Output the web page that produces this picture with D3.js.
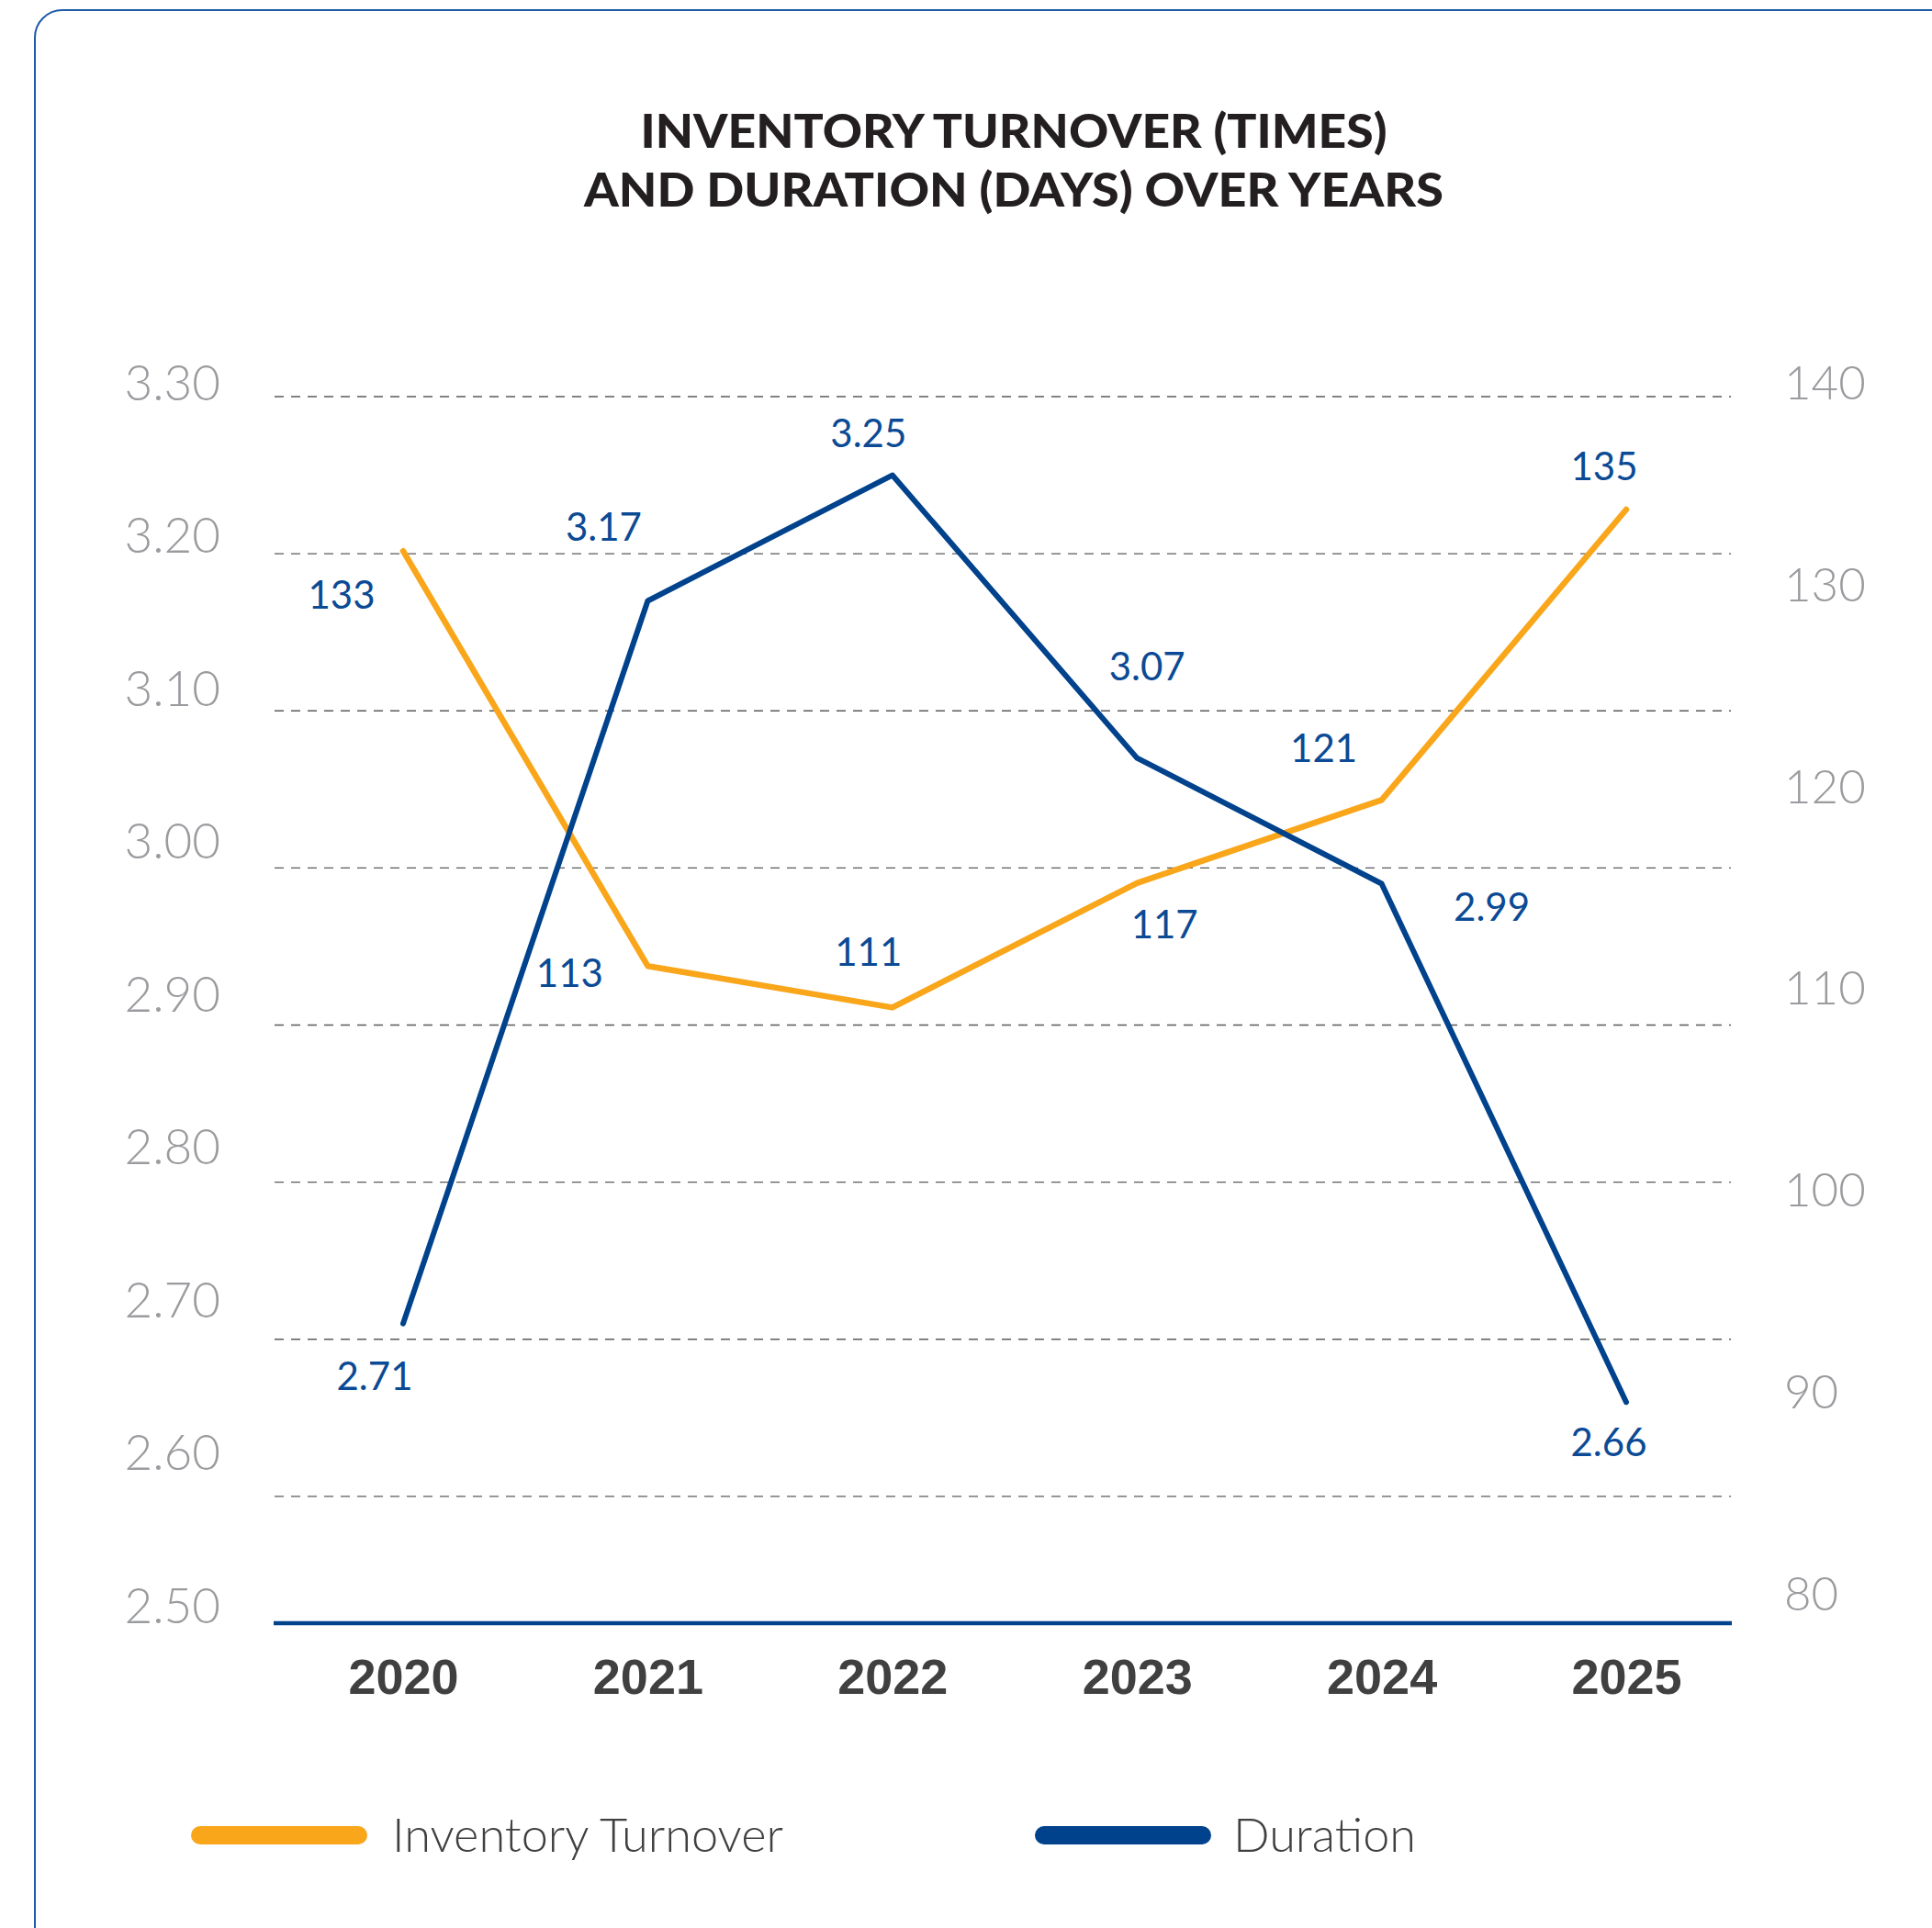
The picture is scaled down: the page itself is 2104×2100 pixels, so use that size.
<!DOCTYPE html>
<html>
<head>
<meta charset="utf-8">
<script src="https://cdn.jsdelivr.net/npm/d3@7"></script>
<style>
html,body{margin:0;padding:0;background:#fff;}
svg{display:block;}
</style>
</head>
<body>
<svg id="chart" width="2104" height="2100"></svg>
<script>
// ---- Data ----
const years = ["2020","2021","2022","2023","2024","2025"];
const turnoverValues = [133, 113, 111, 117, 121, 135];      // orange series (right axis)
const durationValues = [2.71, 3.17, 3.25, 3.07, 2.99, 2.66]; // blue series (left axis)
const leftTicks = [2.5, 2.6, 2.7, 2.8, 2.9, 3.0, 3.1, 3.2, 3.3];
const rightTicks = [80, 90, 100, 110, 120, 130, 140];
const gridTicks = [2.6, 2.7, 2.8, 2.9, 3.0, 3.1, 3.2, 3.3];
const titleLines = ["INVENTORY TURNOVER (TIMES)", "AND DURATION (DAYS) OVER YEARS"];
const seriesNames = ["Inventory Turnover", "Duration"];

// ---- Layout / style ----
const ORANGE = "#F9A61B", BLUE = "#00428C", LABEL_BLUE = "#0B4A94";
const turnoverLabelOffsets = [[-67,47],[-85,7],[-26,-61],[30,44],[-63,-57],[-24,-48]];
const durationLabelOffsets = [[-31,56],[-48,-81],[-26,-47],[11,-101],[120,25],[-19,43]];

const svg = d3.select("#chart");

// frame
svg.append("rect").attr("x",38).attr("y",11).attr("width",2300).attr("height",2300)
  .attr("rx",30).attr("fill","none").attr("stroke","#1F5BA6").attr("stroke-width",2);

// title
svg.append("g").selectAll("text").data(titleLines).join("text")
  .attr("x",1104).attr("y",(d,i)=>141+i*64)
  .attr("text-anchor","middle").attr("dominant-baseline","central")
  .attr("font-family","Lato, 'Open Sans', sans-serif").attr("font-weight",900)
  .attr("font-size",52).attr("fill","#231F20")
  .attr("textLength",(d,i)=>i===0?813:936).attr("lengthAdjust","spacingAndGlyphs")
  .text(d=>d);

// scales
const x = d3.scalePoint().domain(years).range([439, 1771]);
const yLeft = d3.scaleLinear().domain([2.5, 3.3]).range([1801, 432]);
const yRight = d3.scaleLinear().domain([80, 140]).range([1798, 442]);
const leftLabelY = d3.scaleLinear().domain([2.5, 3.3]).range([1748, 416]);
const rightLabelY = d3.scaleLinear().domain([80, 140]).range([1735, 416]);

// gridlines
svg.append("g").selectAll("line").data(gridTicks).join("line")
  .attr("x1",299).attr("x2",1885)
  .attr("y1",d=>yLeft(d)).attr("y2",d=>yLeft(d))
  .attr("stroke","#5a5a5a").attr("stroke-width",1.4).attr("stroke-dasharray","10,8");

// left axis labels
const gl = svg.append("g").attr("transform","translate(240,0)")
  .call(d3.axisLeft(leftLabelY).tickValues(leftTicks).tickFormat(d3.format(".2f")).tickSize(0).tickPadding(0));
gl.select(".domain").remove();
gl.selectAll("text").attr("font-family","Lato, sans-serif").attr("font-weight",300)
  .attr("font-size",53).attr("fill","#9A9B9F").attr("dy","0.36em");

// right axis labels
const gr = svg.append("g").attr("transform","translate(1943,0)")
  .call(d3.axisRight(rightLabelY).tickValues(rightTicks).tickSize(0).tickPadding(0));
gr.select(".domain").remove();
gr.selectAll("text").attr("font-family","Lato, sans-serif").attr("font-weight",300)
  .attr("font-size",51).attr("fill","#9A9B9F").attr("dy","0.36em");

// x axis baseline + labels
svg.append("line").attr("x1",298).attr("x2",1886).attr("y1",1768).attr("y2",1768)
  .attr("stroke",BLUE).attr("stroke-width",4.5);
const gx = svg.append("g").attr("transform","translate(0,1768)")
  .call(d3.axisBottom(x).tickSize(0).tickPadding(39));
gx.select(".domain").remove();
gx.selectAll("text").attr("font-family","'Liberation Sans', Arial, sans-serif").attr("font-weight",700)
  .attr("font-size",54).attr("fill","#404040");

// lines
const turnoverLine = d3.line().x((d,i)=>x(years[i])).y(d=>yRight(d));
const durationLine = d3.line().x((d,i)=>x(years[i])).y(d=>yLeft(d));
svg.append("path").datum(turnoverValues).attr("d",turnoverLine)
  .attr("fill","none").attr("stroke",ORANGE).attr("stroke-width",6.5)
  .attr("stroke-linejoin","round").attr("stroke-linecap","round");
svg.append("path").datum(durationValues).attr("d",durationLine)
  .attr("fill","none").attr("stroke",BLUE).attr("stroke-width",6)
  .attr("stroke-linejoin","round").attr("stroke-linecap","round");

// data labels
const labelFont = "Lato, 'Open Sans', sans-serif";
svg.append("g").selectAll("text").data(turnoverValues).join("text")
  .attr("x",(d,i)=>x(years[i])+turnoverLabelOffsets[i][0])
  .attr("y",(d,i)=>yRight(d)+turnoverLabelOffsets[i][1])
  .attr("text-anchor","middle").attr("dominant-baseline","central")
  .attr("font-family",labelFont).attr("font-size",42).attr("fill",LABEL_BLUE)
  .text(d=>d);
svg.append("g").selectAll("text").data(durationValues).join("text")
  .attr("x",(d,i)=>x(years[i])+durationLabelOffsets[i][0])
  .attr("y",(d,i)=>yLeft(d)+durationLabelOffsets[i][1])
  .attr("text-anchor","middle").attr("dominant-baseline","central")
  .attr("font-family",labelFont).attr("font-size",42).attr("fill",LABEL_BLUE)
  .text(d=>d3.format(".2f")(d));

// legend
const legend = [
  {name: seriesNames[0], color: ORANGE, x1: 218, x2: 390, tx: 427, tw: 426},
  {name: seriesNames[1], color: BLUE, x1: 1137, x2: 1309, tx: 1343, tw: 199}
];
const lg = svg.append("g").selectAll("g").data(legend).join("g");
lg.append("line").attr("x1",d=>d.x1).attr("x2",d=>d.x2).attr("y1",1999).attr("y2",1999)
  .attr("stroke",d=>d.color).attr("stroke-width",20).attr("stroke-linecap","round");
lg.append("text").attr("x",d=>d.tx).attr("y",1997).attr("dominant-baseline","central")
  .attr("font-family","Lato, sans-serif").attr("font-weight",300).attr("font-size",52)
  .attr("fill","#404040").attr("textLength",d=>d.tw).attr("lengthAdjust","spacingAndGlyphs")
  .text(d=>d.name);
</script>
</body>
</html>
